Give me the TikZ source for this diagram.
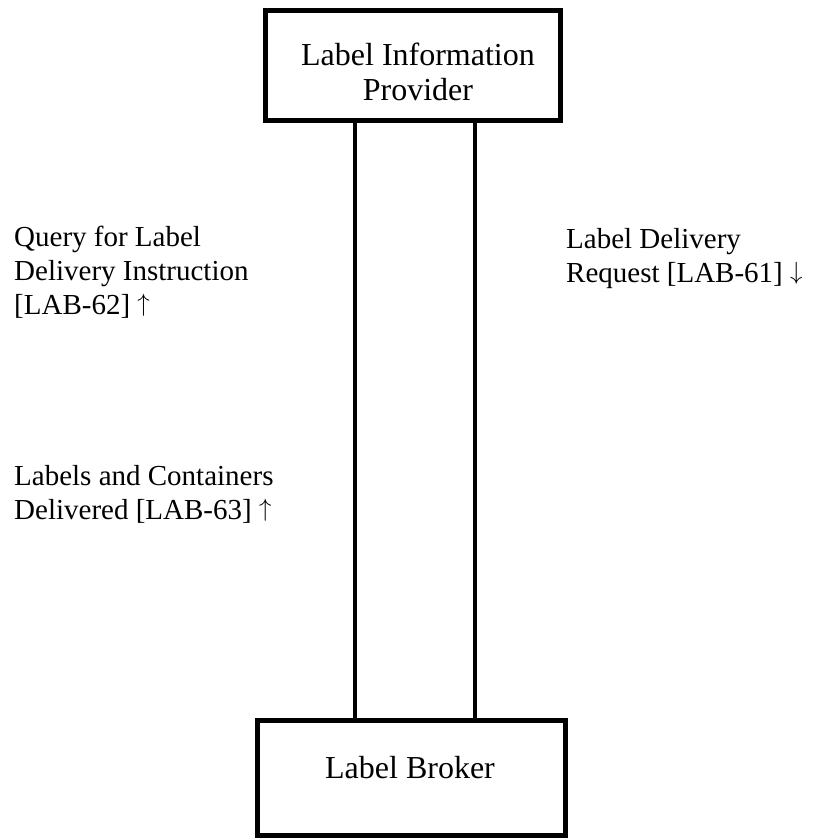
\documentclass[tikz,border=0pt]{standalone}
\usepackage{fontspec}
\setmainfont{Liberation Serif}
\begin{document}
\begin{tikzpicture}[x=1pt,y=-1pt,
  box/.style={draw,line width=5pt,inner sep=0pt},
  boxtext/.style={align=center,inner sep=0pt,font=\fontsize{32}{35}\selectfont},
  conn/.style={line width=4pt},
  lbl/.style={align=left,inner sep=0pt,anchor=north west,font=\fontsize{29}{34}\selectfont}]
\path[use as bounding box] (0,0) rectangle (812,838);
\node[box,minimum width=295pt,minimum height=110pt] (lip) at (412.5,65) {};
\node[boxtext,anchor=north] (lipt) at (418,43) {Label Information\\Provider};
\node[box,minimum width=308pt,minimum height=115pt] (lb) at (411,777.5) {};
\node[boxtext,anchor=base] (lbt) at (410,778) {Label Broker};
\coordinate (xa) at (355,0);
\coordinate (xb) at (475,0);
\draw[conn] (lip.south -| xa) -- (lb.north -| xa);
\draw[conn] (lip.south -| xb) -- (lb.north -| xb);
\node[lbl] (q) at (14,226) {Query for Label\\Delivery Instruction\\{[LAB-62]} \raisebox{3pt}{$\uparrow$}};
\node[lbl] (r) at (566,228) {Label Delivery\\Request [LAB-61] \raisebox{3pt}{$\downarrow$}};
\node[lbl] (c) at (14,465) {Labels and Containers\\Delivered [LAB-63] \raisebox{3pt}{$\uparrow$}};
\end{tikzpicture}
\end{document}
